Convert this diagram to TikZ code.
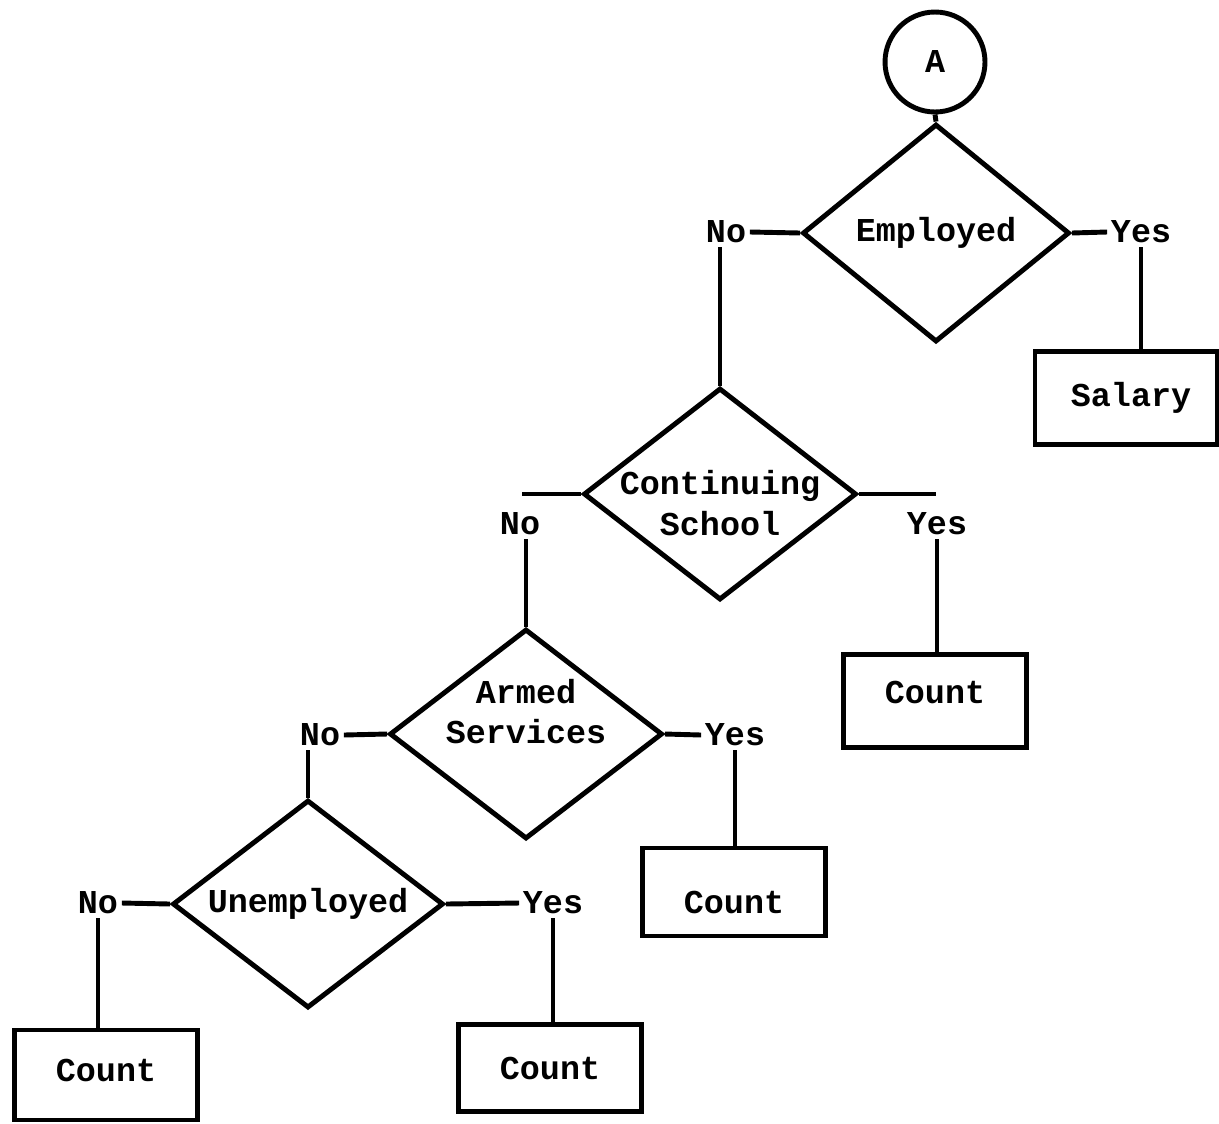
\documentclass[tikz,border=0pt]{standalone}
\usepackage{fontspec}
\setmainfont{Liberation Mono}
\usetikzlibrary{shapes.geometric}

\tikzset{
    chartfont/.style={font=\fontsize{19}{23}\selectfont\bfseries},
    decision/.style={diamond, draw, line width=2.8pt, align=center,
        aspect=1.3, inner sep=0pt, chartfont},
    outcome/.style={rectangle, draw, line width=2.8pt, minimum width=3.66cm,
        minimum height=1.8cm, chartfont},
    answer/.style={inner sep=2pt, chartfont},
    link/.style={line width=2.8pt}
}

\begin{document}
\begin{tikzpicture}[x=0.02cm, y=-0.02cm]

    \useasboundingbox (0,0) rectangle (1219,1123);

    % ============================================================
    % CONNECTOR AND FIRST QUESTION
    % ============================================================
    \node[circle, draw, line width=2.8pt, minimum size=2cm, chartfont]
        (start) at (935,62) {A};

    \node[decision, minimum width=5.34cm, minimum height=4.36cm]
        (employed) at (936,233) {Employed};

    \node[answer] (noEmp) at (726,232) {No};
    \node[answer] (yesEmp) at (1141,232) {Yes};

    \node[outcome, minimum width=3.64cm, minimum height=1.86cm]
        (salary) at (1126,398) {\hspace{0.2cm}Salary};

    \draw[link] (start.south) -- (employed.north);
    \draw[link] (employed.west) -- (noEmp.east);
    \draw[link] (employed.east) -- (yesEmp.west);
    \draw[link] (yesEmp.south) -- (yesEmp.south |- salary.north);

    % ============================================================
    % CONTINUING SCHOOL
    % ============================================================
    \node[decision, minimum width=5.46cm, minimum height=4.24cm,
        inner xsep=-0.5cm, text height=1.65cm]
        (school) at (720,494) {Continuing\\School};

    \coordinate (schoolL) at (522,494);
    \coordinate (schoolR) at (936,494);
    \node[answer] (noSchool) at (520,524) {No};
    \node[answer] (yesSchool) at (937,524) {Yes};

    \node[outcome, minimum height=1.86cm, text depth=0.36cm]
        (countSchool) at (935,701) {Count};

    \draw[link] (noEmp.south -| school.north) -- (school.north);
    \draw[link] (school.west) -- (schoolL);
    \draw[link] (school.east) -- (schoolR);
    \draw[link] (yesSchool.south) -- (yesSchool.south |- countSchool.north);

    % ============================================================
    % ARMED SERVICES
    % ============================================================
    \node[decision, minimum width=5.46cm, minimum height=4.2cm,
        inner xsep=-0.5cm, text depth=0.9cm]
        (armed) at (526,734) {Armed\\Services};

    \node[answer] (noArmed) at (320,735) {No};
    \node[answer] (yesArmed) at (735,735) {Yes};

    \node[outcome, minimum height=1.76cm, text height=0.85cm]
        (countArmed) at (734,892) {Count};

    \draw[link] (noSchool.south -| armed.north) -- (armed.north);
    \draw[link] (armed.west) -- (noArmed.east);
    \draw[link] (armed.east) -- (yesArmed.west);
    \draw[link] (yesArmed.south) -- (yesArmed.south |- countArmed.north);

    % ============================================================
    % UNEMPLOYED
    % ============================================================
    \node[decision, minimum width=5.42cm, minimum height=4.16cm]
        (unemployed) at (308,904) {Unemployed};

    \node[answer] (noUnemp) at (98,903) {No};
    \node[answer] (yesUnemp) at (553,903) {Yes};

    \node[outcome, text depth=0.2cm] (countNo) at (106,1075) {Count};
    \node[outcome, minimum height=1.74cm] (countYes) at (550,1068) {Count};

    \draw[link] (noArmed.south -| unemployed.north) -- (unemployed.north);
    \draw[link] (unemployed.west) -- (noUnemp.east);
    \draw[link] (unemployed.east) -- (yesUnemp.west);
    \draw[link] (noUnemp.south) -- (noUnemp.south |- countNo.north);
    \draw[link] (yesUnemp.south) -- (yesUnemp.south |- countYes.north);

\end{tikzpicture}
\end{document}
